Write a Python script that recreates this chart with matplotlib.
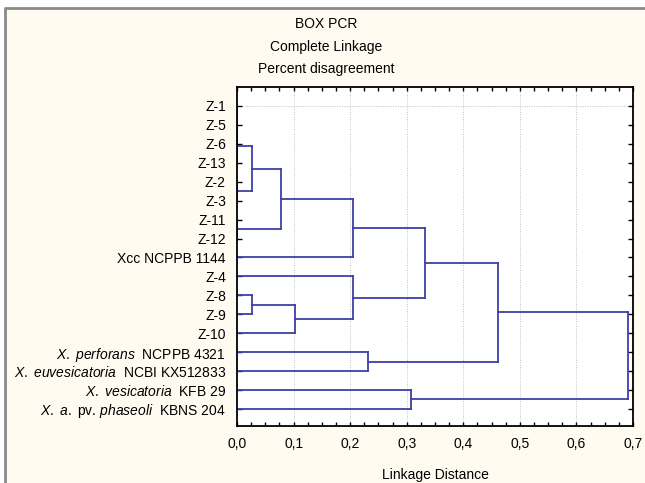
import matplotlib
matplotlib.use('Agg')
import matplotlib.pyplot as plt
from matplotlib.patches import Rectangle
from matplotlib.lines import Line2D
from matplotlib.ticker import MultipleLocator

plt.rcParams['font.family'] = ['Liberation Sans', 'DejaVu Sans']
plt.rcParams['mathtext.fontset'] = 'custom'
plt.rcParams['mathtext.rm'] = 'Liberation Sans'
plt.rcParams['mathtext.it'] = 'Liberation Sans:italic'

# leaves, top to bottom
labels = ['Z-1', 'Z-5', 'Z-6', 'Z-13', 'Z-2', 'Z-3', 'Z-11', 'Z-12',
          'Xcc NCPPB 1144', 'Z-4', 'Z-8', 'Z-9', 'Z-10',
          r'$\it{X.\ perforans}$  NCPPB 4321',
          r'$\it{X.\ euvesicatoria}$  NCBI KX512833',
          r'$\it{X.\ vesicatoria}$  KFB 29',
          r'$\it{X.\ a.}$ pv. $\it{phaseoli}$  KBNS 204']

# merges: (child a, child b, linkage distance); new cluster ids start at len(labels)
merge_a = [0, 17, 18, 4, 6, 19, 10, 22, 23, 24, 9, 13, 15, 26, 30, 31]
merge_b = [1, 2, 3, 5, 7, 20, 11, 21, 12, 8, 25, 14, 16, 27, 28, 29]
merge_dist = [0.0, 0.0, 0.0, 0.0, 0.0, 0.026, 0.026, 0.077, 0.103,
              0.205, 0.205, 0.231, 0.307, 0.333, 0.461, 0.692]

xticks = [0.0, 0.1, 0.2, 0.3, 0.4, 0.5, 0.6, 0.7]
title_lines = ['BOX PCR', 'Complete Linkage', 'Percent disagreement']
line_col = '#3f3fa6'

fig = plt.figure(figsize=(6.45, 4.83), dpi=100, facecolor='white')
# cream panel, grey frame only on top and left
fx, fy = 5 / 645, 1 - 8 / 483
fig.patches.append(Rectangle((fx, 0), 1 - fx, fy, transform=fig.transFigure,
                             facecolor='#fffbf0', edgecolor='none', zorder=-10))
fig.lines.append(Line2D([fx, fx, 1], [0, fy, fy], transform=fig.transFigure,
                        color='#8a8a8a', lw=2, zorder=-9))

ax = fig.add_axes([237 / 645, 1 - 426 / 483, 396 / 645, 339 / 483])
ax.set_facecolor('white')

ypos = {i: float(i) for i in range(len(labels))}
dpos = {i: 0.0 for i in range(len(labels))}
n = len(labels)
for k in range(len(merge_a)):
    a, b, d = merge_a[k], merge_b[k], merge_dist[k]
    ax.plot([dpos[a], d], [ypos[a], ypos[a]], color=line_col, lw=1.3, zorder=3)
    ax.plot([dpos[b], d], [ypos[b], ypos[b]], color=line_col, lw=1.3, zorder=3)
    ax.plot([d, d], [ypos[a], ypos[b]], color=line_col, lw=1.3, zorder=3)
    ypos[n + k] = (ypos[a] + ypos[b]) / 2
    dpos[n + k] = d

ax.set_xlim(0, 0.7)
ax.set_ylim(16.9, -1.0)
ax.set_yticks(range(len(labels)))
ax.set_yticklabels(labels)
ax.set_xticks(xticks)
ax.set_xticklabels([('%.1f' % v).replace('.', ',') for v in xticks])
ax.xaxis.set_minor_locator(MultipleLocator(0.025))

for x in xticks[1:-1]:
    ax.axvline(x, color='#c0c0c0', lw=0.7, ls=(0, (1, 1.5)), zorder=1)
ax.axhline(0, color='#c0c0c0', lw=0.7, ls=(0, (1, 1.5)), zorder=1)

ax.tick_params(axis='both', which='both', direction='in', labelsize=10, color='black')
ax.tick_params(axis='y', length=3.5, width=1, right=True, pad=8)
ax.tick_params(axis='x', which='both', length=3, width=1, top=True, pad=8)
for s in ax.spines.values():
    s.set_linewidth(1.3)
    s.set_zorder(4)

ax.set_xlabel('Linkage Distance', fontsize=10, labelpad=12)

for i, t in enumerate(title_lines):
    fig.text(326 / 645, 1 - (24 + 22.5 * i) / 483, t, ha='center', va='center', fontsize=10)

fig.savefig('out.png', dpi=100, facecolor=fig.get_facecolor())
